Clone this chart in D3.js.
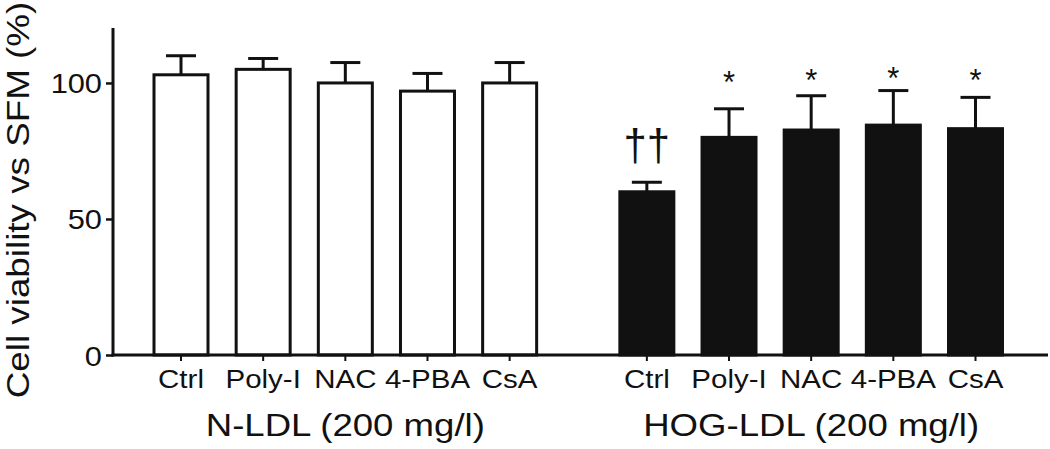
<!DOCTYPE html>
<html>
<head>
<meta charset="utf-8">
<script src="https://cdn.jsdelivr.net/npm/d3@7"></script>
<style>
  html, body { margin: 0; padding: 0; background: #fff; }
  svg { display: block; font-family: "Liberation Sans", Arial, Helvetica, sans-serif; }
</style>
</head>
<body>
<svg id="chart" width="1050" height="449"></svg>
<script>
// ---- data ----
const groups = ["N-LDL (200 mg/l)", "HOG-LDL (200 mg/l)"];
const treatments = ["Ctrl", "Poly-I", "NAC", "4-PBA", "CsA"];
const nldlMeans = [103, 105, 100, 97, 100];
const nldlErr   = [7, 4, 7.5, 6.5, 7.5];
const hogMeans  = [60, 80, 82.7, 84.5, 83.2];
const hogErr    = [3.5, 10.5, 12.6, 12.7, 11.5];
const hogMarks  = ["††", "*", "*", "*", "*"];
const hogMarkY  = [75.5, 103, 103.8, 104.5, 103.8];
const yTicks    = [0, 50, 100];
const yTitle    = "Cell viability vs SFM (%)";

// ---- layout ----
const svg = d3.select("#chart");
const groupGap = 0.67;
const rows = [];
treatments.forEach((t, i) => rows.push({group: 0, label: t, slot: i, mean: nldlMeans[i], err: nldlErr[i], mark: null}));
treatments.forEach((t, i) => rows.push({group: 1, label: t, slot: 5 + groupGap + i, mean: hogMeans[i], err: hogErr[i], mark: hogMarks[i], markY: hogMarkY[i]}));

const x = d3.scaleLinear().domain([0, 9 + groupGap]).range([181, 975.5]);
const y = d3.scaleLinear().domain([0, 120.2]).range([355, 28]);
const barW = 54;
const capW = 30;

// bars
svg.append("g").selectAll("rect").data(rows).join("rect")
  .attr("x", d => x(d.slot) - barW / 2)
  .attr("y", d => y(d.mean))
  .attr("width", barW)
  .attr("height", d => y(0) - y(d.mean))
  .attr("fill", d => d.group === 0 ? "#fff" : "#111")
  .attr("stroke", "#111")
  .attr("stroke-width", 3);

// error bars (upper only)
const eb = svg.append("g").attr("stroke", "#111").attr("stroke-width", 3);
eb.selectAll("line.v").data(rows).join("line").attr("class", "v")
  .attr("x1", d => x(d.slot)).attr("x2", d => x(d.slot))
  .attr("y1", d => y(d.mean)).attr("y2", d => y(d.mean + d.err));
eb.selectAll("line.c").data(rows).join("line").attr("class", "c")
  .attr("x1", d => x(d.slot) - capW / 2).attr("x2", d => x(d.slot) + capW / 2)
  .attr("y1", d => y(d.mean + d.err)).attr("y2", d => y(d.mean + d.err));

// significance marks
svg.append("g").selectAll("text").data(rows.filter(d => d.mark)).join("text")
  .attr("text-anchor", "middle")
  .attr("fill", "#111")
  .attr("font-size", d => d.mark === "*" ? 31 : 44)
  .attr("transform", d => {
    const fs = d.mark === "*" ? 31 : 44;
    const off = d.mark === "*" ? 0.585 * fs : 0.24 * fs;
    return `translate(${x(d.slot)},${y(d.markY) + off}) scale(${d.mark === "*" ? 1 : 0.95},1)`;
  })
  .text(d => d.mark);

// y axis
const yAxis = svg.append("g").attr("transform", "translate(113,0)")
  .call(d3.axisLeft(y).tickValues(yTicks).tickSize(7).tickFormat(d3.format("d")));
yAxis.select(".domain").attr("d", `M0,${y(120.2)}V${y(0) + 1.5}`).attr("stroke", "#111").attr("stroke-width", 3);
yAxis.selectAll(".tick line").attr("stroke", "#111").attr("stroke-width", 2.5);
yAxis.selectAll(".tick text")
  .attr("x", null).attr("dy", null)
  .attr("font-size", 28).attr("fill", "#111")
  .attr("font-family", "'Liberation Sans', Arial, sans-serif")
  .attr("text-anchor", "end")
  .attr("transform", "translate(-11,10) scale(1.1,1)");

// x axis baseline with ticks at bar centres
const xAxis = svg.append("g").attr("transform", `translate(0,${y(0)})`);
xAxis.append("line").attr("x1", 111.5).attr("x2", 1048).attr("y1", 0).attr("y2", 0)
  .attr("stroke", "#111").attr("stroke-width", 3);
xAxis.selectAll("line.t").data(rows).join("line").attr("class", "t")
  .attr("x1", d => x(d.slot)).attr("x2", d => x(d.slot))
  .attr("y1", 0).attr("y2", 6)
  .attr("stroke", "#111").attr("stroke-width", 2);
xAxis.selectAll("text.lab").data(rows).join("text").attr("class", "lab")
  .attr("text-anchor", "middle").attr("font-size", 25).attr("fill", "#111")
  .attr("transform", d => `translate(${x(d.slot)},33) scale(1.18,1)`)
  .text(d => d.label);

// group labels
svg.append("g").selectAll("text").data(groups).join("text")
  .attr("text-anchor", "middle").attr("font-size", 31).attr("fill", "#111")
  .attr("transform", (g, i) => {
    const s = rows.filter(d => d.group === i);
    const cx = (x(s[0].slot) + x(s[s.length - 1].slot)) / 2;
    return `translate(${cx},436) scale(1.18,1)`;
  })
  .text(d => d);

// y title
svg.append("text")
  .attr("text-anchor", "middle").attr("font-size", 32).attr("fill", "#111")
  .attr("transform", "translate(29,200) rotate(-90) scale(1.15,1)")
  .text(yTitle);
</script>
</body>
</html>
